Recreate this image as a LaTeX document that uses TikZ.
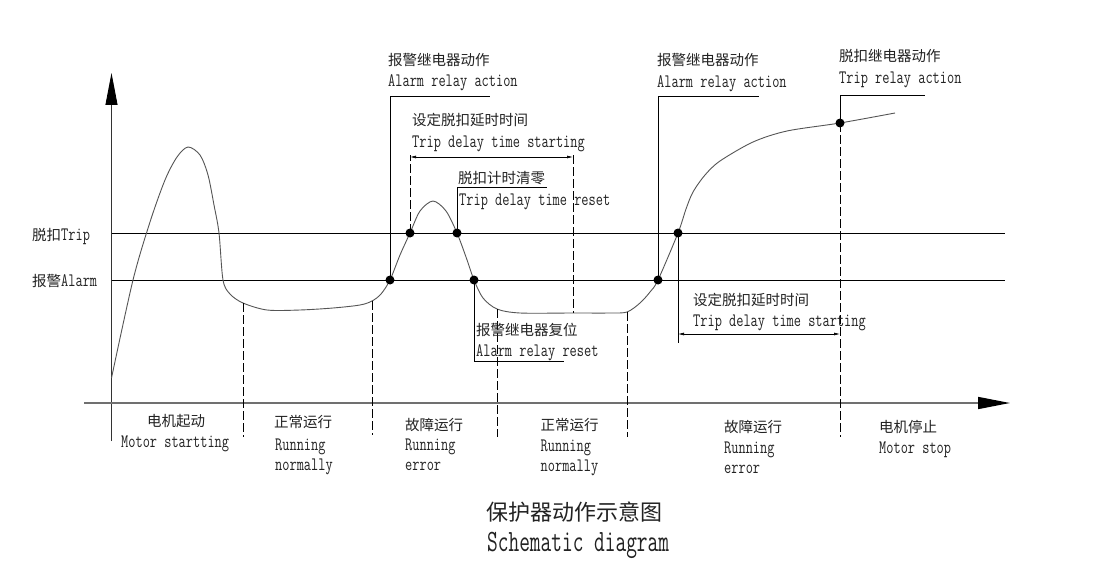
\documentclass[tikz,border=0pt]{standalone}
\usepackage{fontspec}
\setmonofont{Latin Modern Mono}[FakeStretch=0.735]
\newfontfamily\cjk{Noto Sans CJK SC}
\newfontfamily\entitle{Latin Modern Mono}[FakeStretch=0.67]
\usetikzlibrary{arrows.meta}
\definecolor{ink}{HTML}{222222}
\definecolor{curvecol}{HTML}{555555}
\definecolor{axiscol}{HTML}{707070}
\begin{document}
\begin{tikzpicture}[x=1pt,y=-1pt,
  cn/.style={font=\cjk\fontsize{14.5}{17}\selectfont, text=ink, anchor=base west, inner sep=0pt},
  en/.style={font=\ttfamily\fontsize{19}{21}\selectfont, text=ink, anchor=base west, inner sep=0pt},
  cntitle/.style={font=\cjk\fontsize{22}{26}\selectfont, text=ink, anchor=base west, inner sep=0pt},
  entitle/.style={font=\entitle\fontsize{31}{34}\selectfont, text=ink, anchor=base west, inner sep=0pt},
  dot/.style={circle, fill=black, inner sep=0pt, minimum size=9pt},
  level/.style={draw=black, line width=1pt},
  leader/.style={draw=black, line width=0.9pt},
  divider/.style={draw=black, line width=0.8pt, dash pattern=on 9pt off 3pt},
  span/.style={draw=black, line width=0.7pt, {Latex[length=6pt,width=3pt]}-{Latex[length=6pt,width=3pt]}},
  curve/.style={draw=curvecol, line width=0.9pt},
  axisx/.style={draw=axiscol, line width=1.6pt, -{Triangle[length=32pt,width=12pt,color=black]}},
  axisy/.style={draw=black!80, line width=0.9pt, -{Triangle[length=32pt,width=12pt,color=black]}}
]
\useasboundingbox (0,0) rectangle (1105,575);
\fill[white] (0,0) rectangle (1105,575);

% axes
\coordinate (ys) at (111.5,441);
\coordinate (ye) at (111.5,73);
\coordinate (xs) at (84,403);
\coordinate (xe) at (1010,403);
\draw[axisy] (ys) -- (ye);
\draw[axisx] (xs) -- (xe);

% threshold lines
\coordinate (trL) at (111.5,233);
\coordinate (trR) at (1005,233);
\coordinate (alL) at (111.5,280);
\coordinate (alR) at (1005,280);
\draw[level] (trL) -- (trR);
\draw[level] (alL) -- (alR);
\node[cn] (trlab) at (32,240.5) {脱扣\ttfamily\fontsize{19}{21}\selectfont Trip};
\node[cn] (allab) at (32,286.5) {报警\ttfamily\fontsize{19}{21}\selectfont Alarm};

% curve
\draw[curve] plot[smooth, tension=0.5] coordinates {
 (111.5,378) (133,280) (150,222) (165,180) (177,157) (188,147)
 (200,155) (208,175) (214,205) (219,233) (223,280) (230,294) (243,303)
 (267,310) (300,310) (333,308) (360,305) (372,301) (381,294) (390,280)
 (400,255) (410,233) (420,211) (433,201) (446,211) (457,233) (466,257)
 (474,280) (483,298) (497,309) (520,313) (573,313) (610,313) (627,312)
 (640,303) (650,292) (658,280) (678,233) (686,209) (693,192) (705,175)
 (720,161) (753,142) (787,131) (840,123) (895,113)};

% dots
\node[dot] (a1) at (390,280) {};
\node[dot] (t1) at (410,233) {};
\node[dot] (t2) at (457,233) {};
\node[dot] (a2) at (474,280) {};
\node[dot] (a3) at (658,280) {};
\node[dot] (t3) at (678,233) {};
\node[dot] (t4) at (840,123) {};

% segment dividers
\coordinate (d1t) at (243,303); \coordinate (d1b) at (243,437);
\coordinate (d2t) at (372,301); \coordinate (d2b) at (372,435);
\coordinate (d3t) at (497,309); \coordinate (d3b) at (497,437);
\coordinate (d4t) at (627,312); \coordinate (d4b) at (627,437);
\coordinate (d5b) at (840,437);
\draw[divider] (d1t) -- (d1b);
\draw[divider] (d2t) -- (d2b);
\draw[divider] (d3t) -- (d3b);
\draw[divider] (d4t) -- (d4b);
\draw[divider] (t4.center) -- (d5b);

% first trip delay span
\coordinate (s1a) at (410,155);
\coordinate (s1b) at (573,155);
\coordinate (s1c) at (573,313);
\draw[divider] (t1.center) -- (s1a);
\draw[divider] (s1b) -- (s1c);
\coordinate (s1l) at (410,157);
\coordinate (s1r) at (573,157);
\draw[span] (s1l) -- (s1r);
\node[cn] (td1c) at (412,126) {设定脱扣延时时间};
\node[en] (td1e) at (412,147.3) {Trip delay time starting};

% alarm relay action 1
\coordinate (l1) at (490,96);
\draw[leader] (a1.center) |- (l1);
\node[cn] (ar1c) at (388,65.7) {报警继电器动作};
\node[en] (ar1e) at (388,87) {Alarm relay action};

% trip delay reset
\coordinate (l2) at (547,187);
\draw[leader] (t2.center) |- (l2);
\node[cn] (rsc) at (458,183) {脱扣计时清零};
\node[en] (rse) at (459,205.7) {Trip delay time reset};

% alarm relay reset
\coordinate (l3) at (564,361);
\draw[leader] (a2.center) |- (l3);
\node[cn] (arrc) at (476,335.7) {报警继电器复位};
\node[en] (arre) at (476,356.7) {Alarm relay reset};

% alarm relay action 2
\coordinate (l4) at (759,96);
\draw[leader] (a3.center) |- (l4);
\node[cn] (ar2c) at (657,65.7) {报警继电器动作};
\node[en] (ar2e) at (657,87.3) {Alarm relay action};

% trip relay action
\coordinate (l5) at (925,95);
\draw[leader] (t4.center) |- (l5);
\node[cn] (trac) at (839,61.3) {脱扣继电器动作};
\node[en] (trae) at (839,83.3) {Trip relay action};

% second trip delay
\coordinate (l6) at (678,343);
\draw[leader] (t3.center) -- (l6);
\coordinate (s2l) at (678,334);
\coordinate (s2r) at (840,334);
\draw[span] (s2l) -- (s2r);
\node[cn] (td2c) at (693,305) {设定脱扣延时时间};
\node[en] (td2e) at (693,326.7) {Trip delay time starting};

% phase labels
\node[cn] (p1c) at (147,426) {电机起动};
\node[en] (p1e) at (121,447) {Motor startting};
\node[cn] (p2c) at (274,427) {正常运行};
\node[en] (p2e) at (275,450.7) {Running};
\node[en] (p2f) at (275,470) {normally};
\node[cn] (p3c) at (405,430) {故障运行};
\node[en] (p3e) at (405,450.7) {Running};
\node[en] (p3f) at (405,470) {error};
\node[cn] (p4c) at (540.5,430) {正常运行};
\node[en] (p4e) at (540.5,451.7) {Running};
\node[en] (p4f) at (540.5,471.7) {normally};
\node[cn] (p5c) at (724,432) {故障运行};
\node[en] (p5e) at (724,453) {Running};
\node[en] (p5f) at (724,473) {error};
\node[cn] (p6c) at (879,432) {电机停止};
\node[en] (p6e) at (879,453) {Motor stop};

% title
\node[cntitle] (ttc) at (486,520) {保护器动作示意图};
\node[entitle] (tte) at (487,551.7) {Schematic diagram};
\end{tikzpicture}
\end{document}
